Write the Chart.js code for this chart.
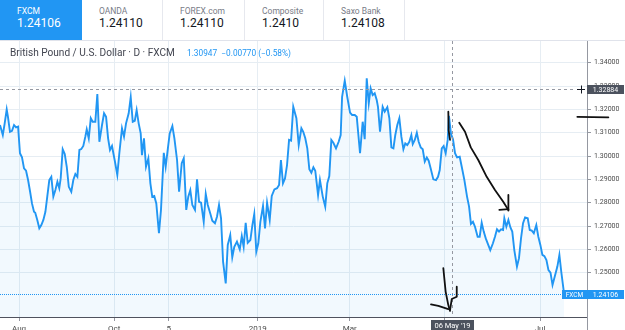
<!DOCTYPE html>
<html lang="en">
<head>
<meta charset="UTF-8" />
<title>British Pound / U.S. Dollar - D - FXCM</title>
<script src="https://cdn.jsdelivr.net/npm/chart.js"></script>
<style>
  body { margin: 0; width: 625px; height: 330px; overflow: hidden; background: #fff; font-family: Roboto, sans-serif; position: relative; }
  .tabs { position: absolute; left: 0; top: 0; width: 625px; height: 40px; border-bottom: 1px solid #e0e3eb; }
  .tab { position: absolute; top: 0; height: 40px; box-sizing: border-box; border-right: 1px solid #e6e8ee; }
  .tab .src { position: absolute; left: 17px; top: 6px; font-size: 8.5px; color: #787b86; white-space: nowrap; }
  .tab .val { position: absolute; left: 17px; top: 16px; font-size: 12px; color: #131722; white-space: nowrap; }
  .tab.active { background: #2196f3; border-right: none; }
  .tab.active .src, .tab.active .val { color: #fff; }
  .legend { position: absolute; left: 10px; top: 47px; font-size: 10.1px; color: #434651; white-space: nowrap; z-index: 2; }
  .quote { position: absolute; left: 187px; top: 48px; font-size: 8.3px; color: #2196f3; white-space: nowrap; z-index: 2; }
  .chart-box { position: absolute; left: 0; top: 41px; width: 625px; height: 289px; }
</style>
</head>
<body>
<div class="tabs" id="tabs"></div>
<div class="legend">British Pound / U.S. Dollar · D · FXCM</div>
<div class="quote">1.30947&nbsp;&nbsp;−0.00770 (−0.58%)</div>
<div class="chart-box"><canvas id="chart"></canvas></div>

<script>
// quote tabs
const sources = ["FXCM", "OANDA", "FOREX.com", "Composite", "Saxo Bank"];
const quotes = ["1.24106", "1.24110", "1.24110", "1.2410", "1.24108"];

// daily closes, x = days since 1 Aug 2018
const days = [
  -12.2, -10.4, -9.2, -7.9, -7.1, -5.8, -4.5, -3.2, -1.9, -0.6,
  0.6, 1.9, 3.2, 4.5, 5.8, 7.1, 8.3, 9.6, 10.4, 11.7,
  13.0, 14.3, 15.6, 16.9, 18.1, 19.4, 20.7, 22.0, 23.3, 24.6,
  25.8, 26.7, 28.0, 29.3, 30.6, 31.9, 33.5, 34.8, 36.1, 37.4,
  38.7, 39.9, 41.2, 42.5, 43.4, 44.7, 46.0, 47.2, 48.9, 50.2,
  51.5, 53.2, 54.5, 55.8, 57.1, 58.3, 59.6, 61.3, 63.0, 64.3,
  66.0, 67.3, 68.6, 70.3, 71.6, 72.9, 74.2, 75.4, 76.7, 78.0,
  78.8, 80.1, 81.4, 82.9, 84.2, 85.4, 86.7, 88.0, 89.7, 91.0,
  92.8, 94.0, 95.3, 96.6, 98.3, 99.6, 101.3, 102.6, 104.3, 105.6,
  107.2, 108.5, 109.8, 111.1, 112.8, 114.1, 115.4, 116.7, 118.4, 119.7,
  121.0, 122.6, 123.9, 125.6, 126.9, 128.2, 129.5, 130.8, 132.5, 133.8,
  135.4, 136.7, 138.0, 139.7, 141.5, 142.8, 144.0, 145.3, 146.6, 148.3,
  149.6, 150.8, 152.1, 153.4, 154.7, 156.4, 157.7, 159.0, 160.7, 162.0,
  163.7, 165.4, 166.7, 167.9, 169.2, 170.5, 171.8, 173.1, 174.4, 175.8,
  177.8, 179.3, 181.0, 182.2, 183.5, 184.8, 186.1, 187.4, 188.7, 189.9,
  191.7, 192.9, 194.7, 196.3, 197.6, 198.9, 200.2, 201.5, 203.2, 204.9,
  206.2, 207.1, 208.8, 210.4, 212.2, 213.5, 215.2, 216.5, 218.6, 220.3,
  221.6, 222.9, 224.2, 225.4, 226.7, 228.0, 229.3, 230.1, 231.4, 233.1,
  234.4, 236.1, 237.4, 238.7, 240.0, 241.2, 242.5, 243.8, 245.1, 246.4,
  247.6, 248.9, 250.2, 251.5, 252.4, 253.7, 255.0, 256.2, 257.5, 258.8,
  260.1, 261.4, 262.6, 263.9, 265.6, 267.3, 268.6, 269.7, 271.0, 272.2,
  273.5, 274.8, 275.6, 276.9, 278.2, 279.5, 280.8, 282.5, 283.8, 285.5,
  287.2, 288.5, 289.7, 291.0, 292.3, 294.0, 295.3, 296.6, 297.9, 299.2,
  300.8, 302.1, 303.8, 305.1, 306.4, 307.7, 309.0, 310.3, 311.1, 312.4,
  313.7, 315.0, 316.2, 317.5, 319.2, 320.5, 321.8, 323.1, 324.4, 326.1,
  327.4, 328.7, 330.0, 331.6, 332.9, 334.2, 335.5, 336.8, 338.1, 339.4,
  340.7, 342.0, 343.3, 345.1, 346.4, 347.6, 349.4
];
const closes = [
  1.3133, 1.3090, 1.3140, 1.3200, 1.3168, 1.3104, 1.3108, 1.3133, 1.3123, 1.3126,
  1.3012, 1.2994, 1.2947, 1.2937, 1.2897, 1.2847, 1.2797, 1.2761, 1.2757, 1.2726,
  1.2690, 1.2704, 1.2726, 1.2761, 1.2826, 1.2897, 1.2911, 1.2826, 1.2854, 1.2890,
  1.2862, 1.2904, 1.3029, 1.3009, 1.2954, 1.2868, 1.2847, 1.2897, 1.2923, 1.2911,
  1.3026, 1.3030, 1.3043, 1.3083, 1.3114, 1.3076, 1.3162, 1.3147, 1.3147, 1.3266,
  1.3061, 1.3133, 1.3183, 1.3168, 1.3076, 1.3026, 1.3043, 1.2983, 1.2919, 1.3012,
  1.3119, 1.3083, 1.3140, 1.3183, 1.3252, 1.3147, 1.3151, 1.3197, 1.3140, 1.3097,
  1.3004, 1.3076, 1.2954, 1.2990, 1.2883, 1.2826, 1.2829, 1.2797, 1.2669, 1.2769,
  1.3014, 1.2954, 1.3026, 1.3097, 1.3129, 1.3076, 1.2983, 1.2847, 1.2969, 1.2990,
  1.2769, 1.2826, 1.2854, 1.2790, 1.2769, 1.2900, 1.2804, 1.2800, 1.2718, 1.2837,
  1.2790, 1.2754, 1.2723, 1.2712, 1.2740, 1.2790, 1.2733, 1.2547, 1.2454, 1.2619,
  1.2661, 1.2566, 1.2611, 1.2633, 1.2600, 1.2657, 1.2611, 1.2714, 1.2628, 1.2640,
  1.2704, 1.2751, 1.2590, 1.2626, 1.2718, 1.2786, 1.2690, 1.2800, 1.2726, 1.2829,
  1.2857, 1.2862, 1.2876, 1.2983, 1.2883, 1.2904, 1.2961, 1.3069, 1.3066, 1.3211,
  1.3162, 1.3047, 1.3119, 1.3104, 1.3076, 1.3033, 1.2943, 1.2928, 1.2952, 1.2937,
  1.2833, 1.2897, 1.2826, 1.2783, 1.2883, 1.2914, 1.3069, 1.3057, 1.3033, 1.3061,
  1.3090, 1.3254, 1.3323, 1.3254, 1.3186, 1.3176, 1.3176, 1.3168, 1.3012, 1.3147,
  1.3072, 1.3333, 1.3226, 1.3290, 1.3261, 1.3269, 1.3240, 1.3211, 1.3104, 1.3211,
  1.3190, 1.3209, 1.3162, 1.3037, 1.3033, 1.3090, 1.3133, 1.3162, 1.3083, 1.3029,
  1.3054, 1.3047, 1.3061, 1.3090, 1.3051, 1.3069, 1.3100, 1.3061, 1.3037, 1.3029,
  1.2976, 1.2994, 1.2980, 1.2947, 1.2900, 1.2897, 1.2911, 1.2940, 1.3033, 1.3043,
  1.3012, 1.3069, 1.3172, 1.3095, 1.3072, 1.3012, 1.2994, 1.2997, 1.2954, 1.2897,
  1.2826, 1.2783, 1.2709, 1.2718, 1.2697, 1.2654, 1.2654, 1.2714, 1.2676, 1.2647,
  1.2619, 1.2597, 1.2626, 1.2654, 1.2686, 1.2676, 1.2686, 1.2683, 1.2733, 1.2697,
  1.2726, 1.2694, 1.2676, 1.2597, 1.2526, 1.2562, 1.2647, 1.2712, 1.2737, 1.2733,
  1.2683, 1.2680, 1.2669, 1.2704, 1.2654, 1.2619, 1.2576, 1.2571, 1.2554, 1.2511,
  1.2500, 1.2447, 1.2480, 1.2526, 1.2576, 1.2504, 1.24106
];

const xTickDays = [0, 61, 96, 153, 212, 273, 334];
const xTickLabels = ["Aug", "Oct", "5", "2019", "Mar", "May", "Jul"];
const yTicks = [1.25, 1.26, 1.27, 1.28, 1.29, 1.30, 1.31, 1.32, 1.33, 1.34];

const lastPrice = 1.24106;
const crossPrice = 1.32884;
const crossDay = 277.4;
const crossLabel = "06 May '19";

// hand drawn pen marks on the screenshot, in [day, price]
const penMarks = [
  [[275.2, 1.3190], [275.4, 1.3111], [276.3, 1.3069]],
  [[282.2, 1.3143], [285.9, 1.3104], [289.6, 1.3037], [294.4, 1.2983], [299.8, 1.2911], [305.1, 1.2854], [310.4, 1.2804], [313.7, 1.2769]],
  [[307.9, 1.2769], [313.7, 1.2772]],
  [[313.7, 1.2833], [313.7, 1.2766]],
  [[272.0, 1.2519], [273.5, 1.2418], [275.2, 1.2361], [276.3, 1.2336]],
  [[264.1, 1.2364], [268.8, 1.2358], [275.2, 1.2344]],
  [[280.6, 1.2440], [280.6, 1.2397], [277.4, 1.2387], [276.3, 1.2340]],
  [[357.9, 1.3168], [377.8, 1.3166]]
];

// build tabs
const tabLeft = [0, 82, 163, 245, 324];
const tabWidth = [82, 81, 82, 79, 81];
const tabs = document.getElementById("tabs");
sources.forEach((s, i) => {
  const t = document.createElement("div");
  t.className = "tab" + (i === 0 ? " active" : "");
  t.style.left = tabLeft[i] + "px";
  t.style.width = tabWidth[i] + "px";
  t.innerHTML = `<div class="src">${s}</div><div class="val">${quotes[i]}</div>`;
  tabs.appendChild(t);
});

function box(ctx, x, y, w, h, fill, text, font) {
  ctx.fillStyle = fill;
  ctx.fillRect(x, y, w, h);
  ctx.fillStyle = "#fff";
  ctx.font = font;
  ctx.textAlign = "center";
  ctx.textBaseline = "middle";
  ctx.fillText(text, x + w / 2, y + h / 2 + 0.5);
}

const overlay = {
  id: "overlay",
  afterDraw(chart) {
    const { ctx, chartArea: a, scales } = chart;
    const px = (d) => scales.x.getPixelForValue(d);
    const py = (v) => scales.y.getPixelForValue(v);
    ctx.save();

    // price axis line goes down to the bottom
    ctx.strokeStyle = "#9598a1";
    ctx.lineWidth = 1;
    ctx.beginPath();
    ctx.moveTo(a.right + 0.5, a.bottom);
    ctx.lineTo(a.right + 0.5, chart.height);
    ctx.stroke();

    // crosshair
    const cx = Math.round(px(crossDay)) + 0.5;
    const cy = Math.round(py(crossPrice)) + 0.5;
    ctx.setLineDash([3, 3]);
    ctx.beginPath();
    ctx.moveTo(cx, a.top);
    ctx.lineTo(cx, a.bottom);
    ctx.moveTo(a.left, cy);
    ctx.lineTo(a.right - 11, cy);
    ctx.stroke();

    // last price line
    const ly = Math.round(py(lastPrice)) + 0.5;
    ctx.strokeStyle = "#2196f3";
    ctx.setLineDash([1, 1]);
    ctx.beginPath();
    ctx.moveTo(a.left, ly);
    ctx.lineTo(a.right - 25, ly);
    ctx.stroke();
    ctx.setLineDash([]);

    // plus marker
    ctx.strokeStyle = "#131722";
    ctx.beginPath();
    ctx.moveTo(a.right - 10, cy);
    ctx.lineTo(a.right - 2, cy);
    ctx.moveTo(a.right - 5.5, cy - 4);
    ctx.lineTo(a.right - 5.5, cy + 4);
    ctx.stroke();

    box(ctx, a.right, cy - 4.5, 37, 9, "#4c525e", crossPrice.toFixed(5), "7px Roboto");
    box(ctx, a.right - 25, ly - 4.5, 25, 9, "#2196f3", "FXCM", "6.5px Roboto");
    box(ctx, a.right, ly - 4.5, 37, 9, "#2196f3", lastPrice.toFixed(5), "7px Roboto");
    box(ctx, cx - 21.5, a.bottom + 3, 43, chart.height - a.bottom - 2, "#4c525e", crossLabel, "7.5px Roboto");

    // pen marks
    ctx.strokeStyle = "#111";
    ctx.lineWidth = 1.8;
    ctx.lineCap = "round";
    ctx.lineJoin = "round";
    penMarks.forEach((m) => {
      ctx.beginPath();
      m.forEach(([d, v], i) => (i ? ctx.lineTo(px(d), py(v)) : ctx.moveTo(px(d), py(v))));
      ctx.stroke();
    });
    ctx.restore();
  }
};

Chart.defaults.font.family = "Roboto, sans-serif";

new Chart(document.getElementById("chart"), {
  type: "line",
  data: {
    datasets: [
      {
        data: days.map((d, i) => ({ x: d, y: closes[i] })),
        borderColor: "#2196f3",
        borderWidth: 1.9,
        backgroundColor: "rgba(33,150,243,0.06)",
        fill: "start",
        pointRadius: 0,
        tension: 0
      }
    ]
  },
  options: {
    responsive: true,
    maintainAspectRatio: false,
    animation: false,
    events: [],
    layout: { padding: 0 },
    plugins: { legend: { display: false }, tooltip: { enabled: false } },
    scales: {
      x: {
        type: "linear",
        min: -12.2,
        max: 364.1,
        afterBuildTicks: (s) => { s.ticks = xTickDays.map((v) => ({ value: v })); },
        afterFit: (s) => { s.height = 13; s.paddingLeft = 0; s.paddingRight = 0; },
        ticks: {
          autoSkip: false,
          maxRotation: 0,
          padding: 3,
          color: "#4a4a4a",
          font: { size: 8 },
          callback: (v, i) => xTickLabels[i]
        },
        grid: { color: "#e6edf3", tickColor: "#9598a1", tickLength: 4 },
        border: { color: "#50535e", width: 1 }
      },
      y: {
        type: "linear",
        position: "right",
        min: 1.2310,
        max: 1.3493,
        afterBuildTicks: (s) => { s.ticks = yTicks.map((v) => ({ value: v })); },
        afterFit: (s) => { s.width = 38; s.paddingTop = 0; s.paddingBottom = 0; },
        ticks: {
          padding: 3,
          color: "#4a4a4a",
          font: { size: 7 },
          callback: (v) => v.toFixed(5)
        },
        grid: { color: "#e6edf3", tickColor: "#9598a1", tickLength: 4 },
        border: { color: "#9598a1", width: 1 }
      }
    }
  },
  plugins: [overlay]
});
</script>
</body>
</html>
